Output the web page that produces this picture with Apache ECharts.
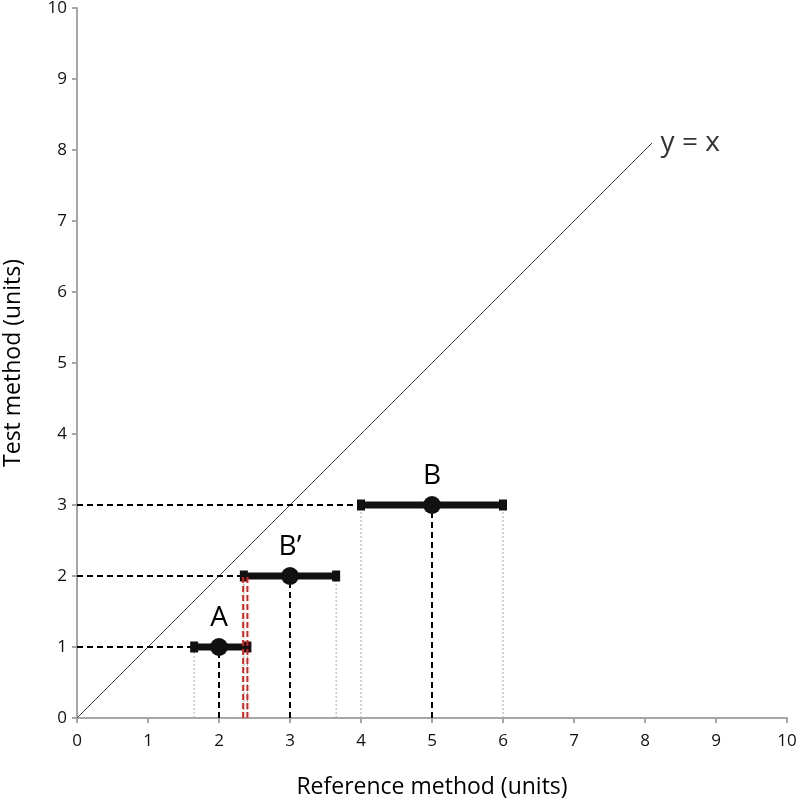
<!DOCTYPE html>
<html>
<head>
<meta charset="utf-8">
<script src="https://cdn.jsdelivr.net/npm/echarts@6/dist/echarts.min.js"></script>
<style>html,body{margin:0;padding:0;background:#fff}#c{width:800px;height:801px}</style>
</head>
<body>
<div id="c"></div>
<script>
// ---- data ----
const pointNames = ['A', 'B\u2019', 'B'];
const pointX = [2, 3, 5];
const pointY = [1, 2, 3];
const rangeLow = [1.65, 2.35, 4];
const rangeHigh = [2.4, 3.65, 6];
const redLinesX = [2.34, 2.40];
const redTopY = 2;
const identityEnd = 8.1;
const identityLabel = 'y = x';
const axisTicks = [0, 1, 2, 3, 4, 5, 6, 7, 8, 9, 10];

const FONT = '"Open Sans", "Noto Sans", sans-serif';
const series = [];

series.push({
  type: 'line', data: [[0, 0], [identityEnd, identityEnd]], symbol: 'none',
  lineStyle: { color: '#444', width: 1 }, silent: true, z: 1
});
series.push({
  type: 'scatter', data: [[identityEnd, identityEnd]], symbolSize: 1,
  itemStyle: { color: 'rgba(0,0,0,0)' },
  label: { show: true, position: 'right', distance: 8, formatter: identityLabel,
    fontSize: 28, color: '#000', fontFamily: FONT }, z: 5
});

pointNames.forEach((n, i) => {
  const x = pointX[i], y = pointY[i], lo = rangeLow[i], hi = rangeHigh[i];
  [lo, hi].forEach(v => series.push({
    type: 'line', data: [[v, 0], [v, y]], symbol: 'none',
    lineStyle: { color: '#aaa', width: 1, type: [2, 2] }, z: 2
  }));
  series.push({
    type: 'line', data: [[0, y], [lo, y]], symbol: 'none',
    lineStyle: { color: '#000', width: 2, type: [6, 4] }, z: 3
  });
  series.push({
    type: 'line', data: [[x, 0], [x, y]], symbol: 'none',
    lineStyle: { color: '#000', width: 2, type: [6, 4] }, z: 3
  });
  series.push({
    type: 'line', data: [[lo, y], [hi, y]], symbol: 'rect', symbolSize: [8, 11],
    itemStyle: { color: '#111', opacity: 1 },
    lineStyle: { color: '#111', width: 7 }, z: 4
  });
});

redLinesX.forEach(v => series.push({
  type: 'line', data: [[v, 0], [v, redTopY]], symbol: 'none',
  lineStyle: { color: '#e02020', width: 2, type: [6, 3] }, z: 6
}));

series.push({
  type: 'scatter',
  data: pointNames.map((n, i) => ({ name: n, value: [pointX[i], pointY[i]] })),
  symbolSize: 18, itemStyle: { color: '#111', opacity: 1 },
  label: { show: true, position: 'top', distance: 6, formatter: p => p.name,
    fontSize: 28, color: '#000', fontFamily: FONT }, z: 7
});

const axisCommon = {
  type: 'value', min: 0, max: 10, interval: 1,
  axisLine: { show: true, lineStyle: { color: '#a6a6a6', width: 2 } },
  axisTick: { show: true, length: 5, lineStyle: { color: '#a6a6a6', width: 2 } },
  splitLine: { show: false },
  nameLocation: 'middle',
  nameTextStyle: { fontSize: 23, color: '#000', fontFamily: FONT }
};

const chart = echarts.init(document.getElementById('c'), null, { renderer: 'canvas' });
chart.setOption({
  animation: false,
  backgroundColor: '#fff',
  grid: { left: 77, right: 13, top: 8, bottom: 83, containLabel: false, outerBoundsMode: 'none' },
  xAxis: Object.assign({}, axisCommon, {
    name: 'Reference method (units)', nameGap: 58,
    axisLabel: { fontSize: 17, color: '#111', margin: 15, fontFamily: FONT,
      formatter: v => String(axisTicks[v]) }
  }),
  yAxis: Object.assign({}, axisCommon, {
    name: 'Test method (units)', nameGap: 52,
    axisLabel: { fontSize: 17, color: '#111', margin: 10, fontFamily: FONT,
      formatter: v => String(axisTicks[v]) }
  }),
  series: series
});
</script>
</body>
</html>
